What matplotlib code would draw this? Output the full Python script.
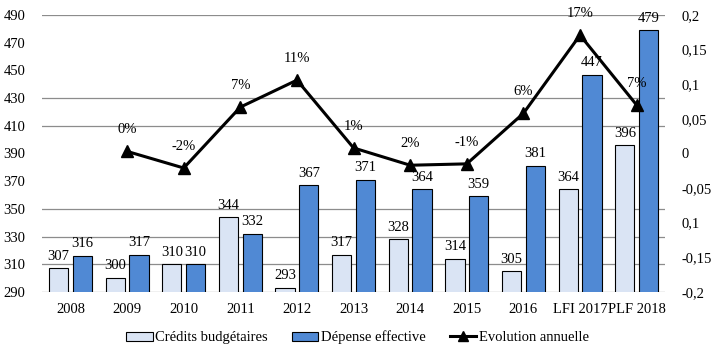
import matplotlib
matplotlib.use("Agg")
import matplotlib.pyplot as plt
import numpy as np
from matplotlib.patches import Patch
from matplotlib.lines import Line2D

plt.rcParams['font.family'] = ['Liberation Serif', 'DejaVu Serif']

categories = ['2008', '2009', '2010', '2011', '2012', '2013', '2014', '2015', '2016', 'LFI 2017', 'PLF 2018']
credits = [307, 300, 310, 344, 293, 317, 328, 314, 305, 364, 396]
depense = [316, 317, 310, 332, 367, 371, 364, 359, 381, 447, 479]
# evolution annuelle (axe de droite), pas de valeur pour 2008
evol_cats = categories[1:]
evolution = [0.003, -0.021, 0.067, 0.106, 0.008, -0.017, -0.015, 0.058, 0.171, 0.070]
evol_labels = ['0%', '-2%', '7%', '11%', '1%', '2%', '-1%', '6%', '17%', '7%']
right_ticks = [0.2, 0.15, 0.1, 0.05, 0, -0.05, -0.1, -0.15, -0.2]
right_labels = ['0,2', '0,15', '0,1', '0,05', '0', '-0,05', '0,1', '-0,15', '-0,2']

light = '#DAE4F4'
dark = '#5089D4'

fig = plt.figure(figsize=(7.15, 3.59), dpi=100)
ax = fig.add_axes([0.059, 0.187, 0.871, 0.771])
x = np.arange(len(categories))
w = 0.34
ax.bar(x - 0.21, credits, w, color=light, edgecolor='black', linewidth=0.8, zorder=2)
ax.bar(x + 0.21, depense, w, color=dark, edgecolor='black', linewidth=0.8, zorder=2)
ax.set_ylim(290, 490)
ax.set_xlim(-0.5, len(categories) - 0.5)
ax.set_yticks(range(290, 491, 20))
for g in [290, 310, 330, 350, 410, 430, 490]:
    ax.axhline(g, color='#8c8c8c', linewidth=0.9, zorder=1)
for s in ax.spines.values():
    s.set_visible(False)
ax.set_xticks(x)
ax.set_xticklabels(categories, fontsize=10.5)
ax.tick_params(axis='both', length=0, labelsize=10.5)
ax.tick_params(axis='x', pad=8)
ax.tick_params(axis='y', pad=12)

for i in range(len(categories)):
    ax.text(x[i] - 0.21, credits[i] + 4, str(credits[i]), ha='center', va='bottom', fontsize=10.5, clip_on=False)
    ax.text(x[i] + 0.21, depense[i] + 4, str(depense[i]), ha='center', va='bottom', fontsize=10.5, clip_on=False)

ax2 = ax.twinx()
ax2.set_ylim(-0.2, 0.2)
xe = x[1:]
ax2.plot(xe, evolution, color='black', linewidth=2.2, marker='^', markersize=8, zorder=5)
for xi, v, lab in zip(xe, evolution, evol_labels):
    ax2.text(xi, v + 0.022, lab, ha='center', va='bottom', fontsize=10.5)
ax2.set_yticks(right_ticks)
ax2.set_yticklabels(right_labels)
ax2.tick_params(axis='y', length=0, labelsize=10.5, pad=12)
for s in ax2.spines.values():
    s.set_visible(False)

handles = [Patch(facecolor=light, edgecolor='black', linewidth=0.8),
           Patch(facecolor=dark, edgecolor='black', linewidth=0.8),
           Line2D([0], [0], color='black', linewidth=2.2, marker='^', markersize=7)]
fig.legend(handles, ['Crédits budgétaires', 'Dépense effective', 'Evolution annuelle'],
           loc='center', bbox_to_anchor=(0.5, 0.06), ncol=3, frameon=False,
           fontsize=10.5, columnspacing=1.7, handlelength=1.8, handleheight=0.6, handletextpad=0.15)

fig.savefig('out.png', dpi=100)
